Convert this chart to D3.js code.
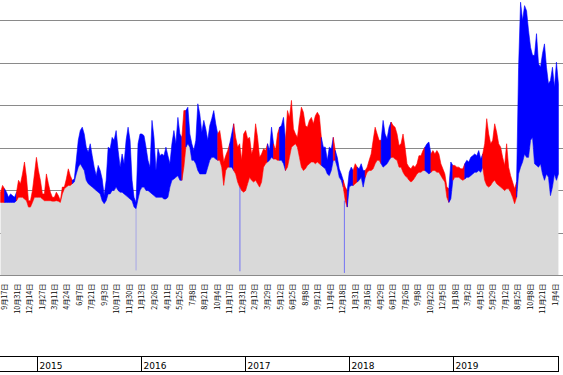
<!DOCTYPE html>
<html><head><meta charset="utf-8">
<script src="https://cdn.jsdelivr.net/npm/d3@7"></script>
<style>html,body{margin:0;padding:0;background:#fff;}svg{display:block;}</style>
</head><body><svg id="c" width="563" height="375"></svg>
<script>
// ---- data ----
const startDate = "2014-08-25";   // first weekly sample
const stepDays = 7;
const high = [
196,212,204,196,184,192,188,184,196,224,
216,239,267,231,176,176,200,239,278,247,
224,192,192,239,216,196,184,184,196,188,
176,208,208,227,251,235,224,227,271,318,
341,349,333,302,290,310,282,255,235,259,
247,227,188,224,302,298,325,318,341,294,
255,286,263,318,349,318,224,184,172,310,
333,333,329,302,271,255,365,325,247,298,
282,286,282,302,282,263,310,341,310,372,
333,325,388,388,396,333,310,294,318,404,
380,337,365,345,318,353,369,388,357,333,
341,310,267,282,294,310,333,357,325,302,
310,271,333,341,322,325,286,302,357,325,
278,286,298,294,310,294,349,310,294,333,
349,353,372,318,388,372,412,345,333,325,
365,396,384,353,349,365,372,357,376,384,
376,325,302,302,271,302,298,325,294,278,
251,239,224,208,200,243,255,247,263,255,
251,263,247,247,255,271,286,318,349,333,
318,318,365,333,322,349,361,353,349,333,
306,310,333,302,263,255,251,259,255,263,
282,282,294,302,310,314,286,294,286,294,
286,263,251,239,208,204,267,259,259,255,
255,251,251,263,271,267,278,282,286,282,
294,274,286,310,369,333,310,318,357,337,
310,302,278,259,310,255,235,220,204,220,
490,643,600,635,623,576,537,518,518,569,
498,490,522,545,490,451,459,490,443,502,451];
const low = [
172,172,172,172,172,172,172,172,176,184,
184,184,180,176,161,161,172,184,184,184,
184,180,176,176,176,176,175,175,176,175,
172,192,204,208,212,212,216,220,239,255,
263,255,247,224,216,212,208,204,200,196,
192,176,169,176,192,192,200,200,208,200,
196,196,192,188,184,180,176,161,157,180,
200,208,208,200,200,196,192,188,184,184,
184,184,180,180,184,208,224,227,231,235,
224,224,255,302,310,302,271,271,263,247,
239,239,239,239,255,271,278,278,274,271,
271,255,212,247,255,255,255,247,239,220,
208,200,196,200,216,231,224,220,224,216,
208,220,255,263,267,271,278,274,274,271,
271,271,263,247,255,278,302,306,310,302,
278,255,247,251,259,263,267,267,263,267,
263,259,255,251,239,235,247,271,271,255,
231,224,208,176,161,208,212,212,216,220,
224,231,208,231,243,247,247,251,263,271,
271,263,255,259,263,271,278,278,274,271,
255,255,243,235,231,224,220,224,231,239,
243,243,247,247,243,239,243,247,247,243,
243,235,227,220,184,172,180,224,231,231,
231,227,224,227,231,231,235,239,243,243,
247,243,255,224,212,208,212,220,224,216,
212,208,204,200,204,204,196,184,169,184,
239,255,267,286,278,278,318,325,263,259,
255,263,239,224,239,231,188,208,239,224,239];
const runStarts = ["2014-08-25","2014-09-08","2014-10-20","2015-05-04","2016-05-23","2016-06-06","2016-09-26","2016-11-07","2016-11-21","2017-03-20","2017-04-10","2017-05-01","2017-05-22","2017-09-25","2017-11-06","2017-11-13","2017-12-11","2017-12-25","2018-01-15","2018-01-29","2018-02-26","2018-04-23","2018-05-28","2018-09-24","2018-10-15","2018-12-17","2018-12-31","2019-02-11","2019-04-15","2019-08-12"];
const runTrend = ["up","down","up","down","up","down","up","down","up","down","up","down","up","down","up","down","up","down","up","down","up","down","up","down","up","down","up","down","up","down"];
const glitchDates = ["2015-12-14","2016-12-13","2017-12-15"];
const glitchLow = [12,10,6];
const gridValues = [0,100,200,300,400,500,600];
const labelDates = ["2014-09-17","2014-10-31","2014-12-14","2015-01-27","2015-03-11","2015-04-24","2015-06-07","2015-07-21","2015-09-03","2015-10-17","2015-11-30","2016-01-13","2016-02-26","2016-04-11","2016-05-25","2016-07-08","2016-08-21","2016-10-04","2016-11-17","2016-12-31","2017-02-13","2017-03-29","2017-05-12","2017-06-25","2017-08-08","2017-09-21","2017-11-04","2017-12-18","2018-01-31","2018-03-16","2018-04-29","2018-06-12","2018-07-26","2018-09-08","2018-10-22","2018-12-05","2019-01-18","2019-03-02","2019-04-15","2019-05-29","2019-07-12","2019-08-25","2019-10-08","2019-11-21","2020-01-04"];
const yearLabels = ["2015","2016","2017","2018","2019"];

// ---- chart ----
const parse = d3.timeParse("%Y-%m-%d");
const fmt = d3.timeFormat("%-m月%-d日");
const t0 = parse(startDate);
const data = high.map((h, i) => ({date: d3.timeDay.offset(t0, i * stepDays), high: h, low: low[i]}));

const svg = d3.select("#c");
const x = d3.scaleTime().domain([parse("2014-08-23"), parse("2020-01-08")]).range([0, 559]);
const y = d3.scaleLinear().domain([0, 600]).range([275.5, 20.5]);
const colors = {up: "#ff0000", down: "#0000ff"};

// grid lines (under everything)
svg.append("g").selectAll("line").data(gridValues.filter(v => v > 0)).join("line")
  .attr("x1", 0).attr("x2", 563).attr("y1", d => y(d)).attr("y2", d => y(d))
  .attr("stroke", "#8a8a8a").attr("stroke-width", 1).attr("shape-rendering", "crispEdges");

// gray area below low
svg.append("path").datum(data)
  .attr("d", d3.area().x(d => x(d.date)).y0(y(0)).y1(d => y(d.low)))
  .attr("fill", "#d9d9d9");

// colored high-low band, split into runs
const runIdx = runStarts.map(s => { const t = parse(s); const k = data.findIndex(d => d.date >= t); return k < 0 ? data.length - 1 : k; });
const band = d3.area().x(d => x(d.date)).y0(d => y(d.low)).y1(d => y(d.high));
runIdx.forEach((s, k) => {
  const e = k + 1 < runIdx.length ? runIdx[k + 1] : data.length - 1;
  svg.append("path").datum(data.slice(s, e + 1))
    .attr("d", band).attr("fill", colors[runTrend[k]])
    .attr("stroke", colors[runTrend[k]]).attr("stroke-width", 0.6);
});

// one-day low outliers
glitchDates.forEach((g, k) => {
  const t = parse(g);
  const near = data.reduce((a, b) => Math.abs(b.date - t) < Math.abs(a.date - t) ? b : a);
  svg.append("line").attr("x1", x(t)).attr("x2", x(t))
    .attr("y1", y(near.low)).attr("y2", y(glitchLow[k]))
    .attr("stroke", "#4a4aff").attr("stroke-opacity", k === 0 ? 0.35 : 0.7).attr("stroke-width", 1);
});

// base line
svg.append("line").attr("x1", 0).attr("x2", 563).attr("y1", y(0)).attr("y2", y(0))
  .attr("stroke", "#8a8a8a").attr("shape-rendering", "crispEdges");

// date labels
svg.append("g").selectAll("text").data(labelDates).join("text")
  .attr("transform", d => `translate(${Math.max(5, x(parse(d)) - 2.5)},283.5) rotate(-90)`)
  .attr("text-anchor", "end").attr("dy", "0.33em")
  .attr("font-family", "'Noto Sans CJK JP', sans-serif").attr("font-size", "7.2px")
  .attr("fill", "#000").text(d => fmt(parse(d)));

// year band
const yb = svg.append("g").attr("shape-rendering", "crispEdges").attr("stroke", "#000");
yb.append("line").attr("x1", 0).attr("x2", 558.5).attr("y1", 356.5).attr("y2", 356.5);
yb.append("line").attr("x1", 0).attr("x2", 558.5).attr("y1", 371.5).attr("y2", 371.5);
yb.append("line").attr("x1", 558.5).attr("x2", 558.5).attr("y1", 356.5).attr("y2", 371.5);
yearLabels.forEach(yr => {
  const xx = Math.round(x(parse(yr + "-01-01"))) + 0.5;
  yb.append("line").attr("x1", xx).attr("x2", xx).attr("y1", 356.5).attr("y2", 371.5);
  svg.append("text").attr("x", xx + 2).attr("y", 369)
    .attr("font-family", "'DejaVu Sans', sans-serif").attr("font-size", "9px")
    .attr("fill", "#000").text(yr);
});
</script></body></html>
